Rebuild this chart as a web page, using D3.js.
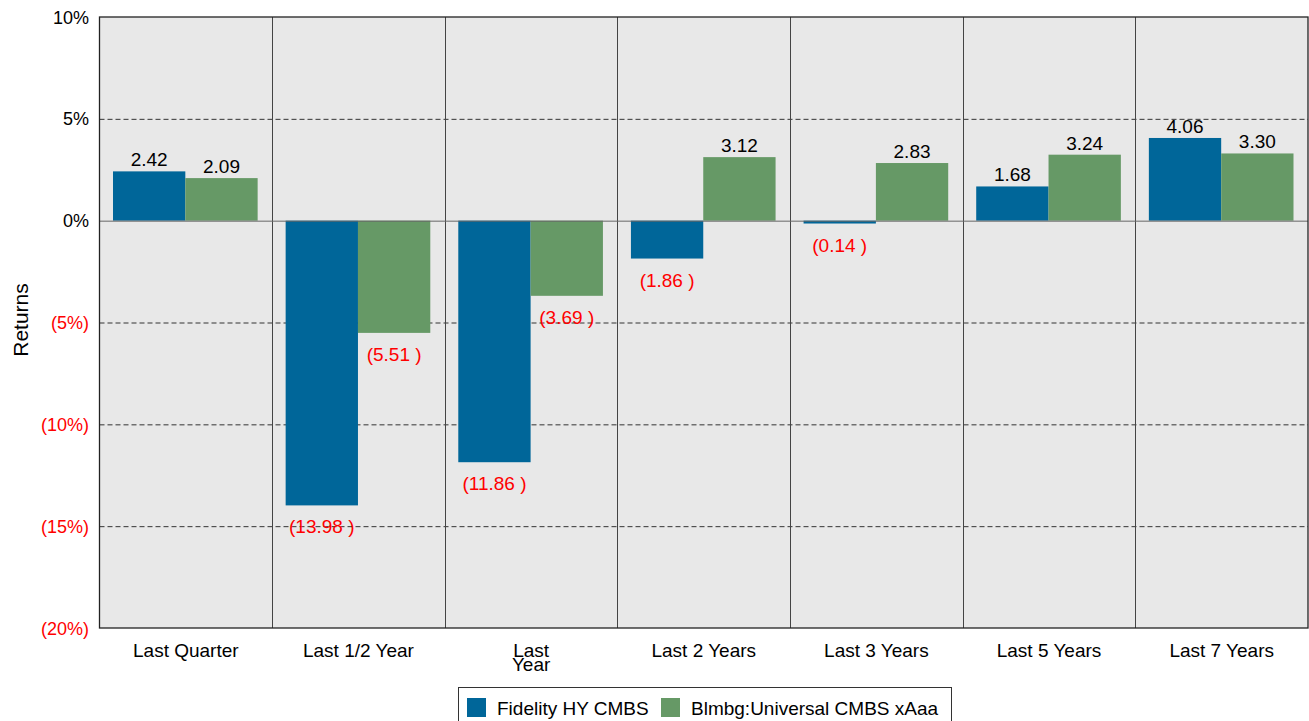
<!DOCTYPE html>
<html><head><meta charset="utf-8">
<script src="https://cdn.jsdelivr.net/npm/d3@7"></script>
<style>body{margin:0;background:#fff;font-family:"Liberation Sans",Arial,sans-serif;}</style>
</head><body>
<svg id="c" width="1309" height="721"></svg>
<script>
const categories = ["Last Quarter","Last 1/2 Year","Last\nYear","Last 2 Years","Last 3 Years","Last 5 Years","Last 7 Years"];
const seriesNames = ["Fidelity HY CMBS","Blmbg:Universal CMBS xAaa"];
const fidelity = [2.42,-13.98,-11.86,-1.86,-0.14,1.68,4.06];
const bloomberg = [2.09,-5.51,-3.69,3.12,2.83,3.24,3.30];
const yTicks = [10,5,0,-5,-10,-15,-20];
const colors = ["#006699","#669966"];

const svg = d3.select("#c");
const L=99.5, R=1308, T=17, B=628;
const x = d3.scaleBand().domain(categories).range([L,R]).paddingInner(0).paddingOuter(0);
const y = d3.scaleLinear().domain([-20,10]).range([B,T]);
const inner = d3.scaleBand().domain([0,1]).range([13.5, x.bandwidth()-14.5]);

svg.append("rect").attr("x",L).attr("y",T).attr("width",R-L).attr("height",B-T).attr("fill","#e8e8e8");

svg.append("g").selectAll("line").data(yTicks.filter(d=>d!==0 && d!==10 && d!==-20)).join("line")
 .attr("x1",L).attr("x2",R).attr("y1",d=>y(d)+0.5).attr("y2",d=>y(d)+0.5)
 .attr("stroke","#333").attr("stroke-dasharray","5,3").attr("stroke-width",1);
svg.append("g").selectAll("line").data(categories.slice(1)).join("line")
 .attr("x1",d=>Math.round(x(d))+0.5).attr("x2",d=>Math.round(x(d))+0.5).attr("y1",T).attr("y2",B)
 .attr("stroke","#444").attr("stroke-width",1);

const data = categories.map((c,i)=>({c, vals:[fidelity[i],bloomberg[i]]}));
const g = svg.append("g");
data.forEach(d=>{
  d.vals.forEach((v,k)=>{
    const bx = x(d.c)+inner(k);
    g.append("rect").attr("x",bx).attr("width",inner.bandwidth())
     .attr("y",y(Math.max(0,v))).attr("height",Math.abs(y(v)-y(0))).attr("fill",colors[k]);
  });
});
svg.append("line").attr("x1",L).attr("x2",R).attr("y1",y(0)+0.5).attr("y2",y(0)+0.5).attr("stroke","#666").attr("stroke-width",1);
data.forEach(d=>{
  d.vals.forEach((v,k)=>{
    const cx = x(d.c)+inner(k)+inner.bandwidth()/2;
    const t = g.append("text").attr("x",cx).attr("text-anchor","middle").attr("font-size",19);
    if(v>=0){ t.attr("y",y(v)-5).attr("fill","#000").text(v.toFixed(2)); }
    else { t.attr("y",y(v)+28).attr("fill","#ff0000").text("("+Math.abs(v).toFixed(2)+" )"); }
  });
});
svg.append("rect").attr("x",L).attr("y",T).attr("width",R-L).attr("height",B-T).attr("fill","none").attr("stroke","#222").attr("stroke-width",1.3);

svg.append("g").selectAll("text").data(yTicks).join("text")
 .attr("x",89).attr("y",d=>y(d)+6.5).attr("text-anchor","end").attr("font-size",18)
 .attr("fill",d=>d<0?"#ff0000":"#000")
 .text(d=>d<0?"("+Math.abs(d)+"%)":d+"%");
svg.append("text").attr("transform","translate(28,320) rotate(-90)").attr("text-anchor","middle").attr("font-size",21).text("Returns");

categories.forEach(c=>{
  const lines = c.split("\n");
  const t = svg.append("text").attr("x",x(c)+x.bandwidth()/2).attr("y",657).attr("text-anchor","middle").attr("font-size",19);
  lines.forEach((ln,i)=>t.append("tspan").attr("x",x(c)+x.bandwidth()/2).attr("dy",i?14:0).text(ln));
});

const lg = svg.append("g");
lg.append("rect").attr("x",458.5).attr("y",687.5).attr("width",493).attr("height",40).attr("fill","#fff").attr("stroke","#333");
const lx=[467,661];
seriesNames.forEach((s,i)=>{
  lg.append("rect").attr("x",lx[i]).attr("y",698).attr("width",19).attr("height",19).attr("fill",colors[i]);
  lg.append("text").attr("x",lx[i]+30).attr("y",715).attr("font-size",19).text(s);
});
</script>
</body></html>
